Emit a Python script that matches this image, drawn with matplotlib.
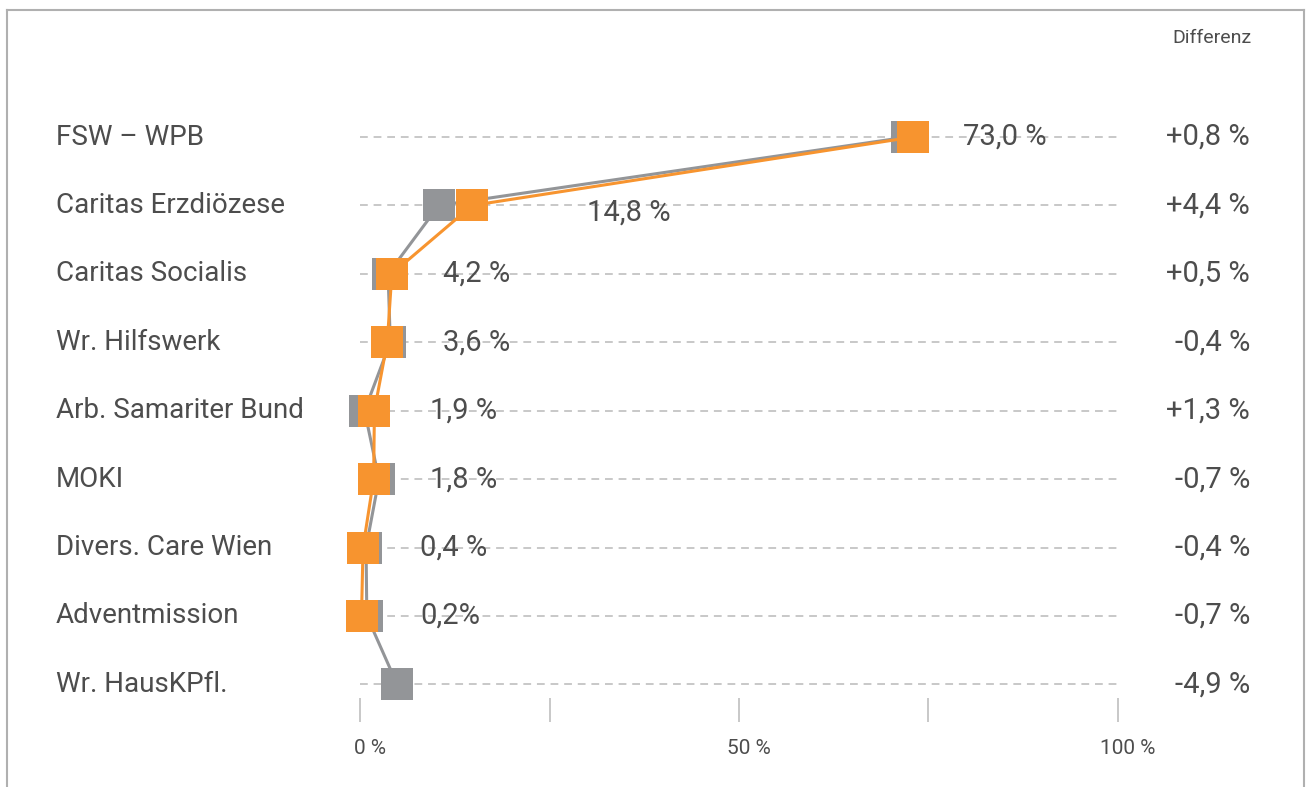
import matplotlib.pyplot as plt
import numpy as np
from matplotlib.transforms import blended_transform_factory, ScaledTranslation
from matplotlib.lines import Line2D

plt.rcParams['font.family'] = ['Roboto', 'DejaVu Sans']

traeger = ["FSW – WPB", "Caritas Erzdiözese", "Caritas Socialis", "Wr. Hilfswerk",
           "Arb. Samariter Bund", "MOKI", "Divers. Care Wien", "Adventmission",
           "Wr. HausKPfl."]
anteil_neu = [73.0, 14.8, 4.2, 3.6, 1.9, 1.8, 0.4, 0.2, np.nan]
anteil_alt = [72.2, 10.4, 3.7, 4.0, 0.6, 2.5, 0.8, 0.9, 4.9]
label_neu = ["73,0 %", "14,8 %", "4,2 %", "3,6 %", "1,9 %", "1,8 %", "0,4 %", "0,2%", ""]
differenz = ["+0,8 %", "+4,4 %", "+0,5 %", "-0,4 %", "+1,3 %", "-0,7 %", "-0,4 %", "-0,7 %", "-4,9 %"]
x_ticks = [0, 25, 50, 75, 100]
x_ticklabels = ["0 %", "", "50 %", "", "100 %"]

# Lage der Wert-Beschriftungen (x in %, y-Versatz in Zeilen)
label_x = [79.6, 29.9, 10.9, 10.9, 9.2, 9.2, 7.9, 7.9, 0]
label_dy = [0, 0.1, 0, 0, 0, 0, 0, 0, 0]

orange = "#F7942F"
grau = "#939598"
text_farbe = "#4D4D4D"
raster = "#C8C8C8"

W, H = 1309, 787
fig = plt.figure(figsize=(W / 100, H / 100), dpi=100)
ax = fig.add_axes([360 / W, 1 - 722 / H, 758 / W, (722 - 102.8) / H])

y = np.arange(len(traeger))
for yi in y:
    ax.plot([0, 100], [yi, yi], color=raster, lw=1.4, ls=(0, (4, 3)), zorder=1)

ax.plot(anteil_alt, y, color=grau, lw=2.2, marker="s", ms=23, mew=0, zorder=2, clip_on=False)
ax.plot(anteil_neu, y, color=orange, lw=2.2, marker="s", ms=23, mew=0, zorder=3, clip_on=False)

for i, lab in enumerate(label_neu):
    if lab:
        ax.text(label_x[i], y[i] + label_dy[i], lab, fontsize=21, color=text_farbe,
                va="center", ha="left", zorder=4)

ax.set_xlim(0, 100)
ax.set_ylim(8.55, -0.5)
ax.set_xticks(x_ticks)
ax.set_xticklabels(x_ticklabels, fontsize=15, color=text_farbe)
ax.tick_params(axis="x", direction="in", length=17, width=1.4, color=raster, pad=12)
versatz = ScaledTranslation(10 / 100, 0, fig.dpi_scale_trans)
for t in ax.get_xticklabels():
    t.set_transform(t.get_transform() + versatz)
ax.set_yticks([])
for s in ax.spines.values():
    s.set_visible(False)

trans = blended_transform_factory(fig.transFigure, ax.transData)
for i, name in enumerate(traeger):
    ax.text(56 / W, y[i], name, transform=trans, fontsize=20, color=text_farbe,
            va="center", ha="left")
    ax.text(1250 / W, y[i], differenz[i], transform=trans, fontsize=21, color=text_farbe,
            va="center", ha="right")

fig.text(1251 / W, 1 - 38 / H, "Differenz", fontsize=14, color=text_farbe, ha="right", va="center")

# Rahmen
rahmen = "#B0B0B0"
fig.add_artist(Line2D([7 / W, 7 / W], [0, 1 - 10 / H], color=rahmen, lw=1.5))
fig.add_artist(Line2D([1304 / W, 1304 / W], [0, 1 - 10 / H], color=rahmen, lw=1.5))
fig.add_artist(Line2D([7 / W, 1304 / W], [1 - 10 / H, 1 - 10 / H], color=rahmen, lw=1.5))

fig.savefig("out.png", dpi=100)
